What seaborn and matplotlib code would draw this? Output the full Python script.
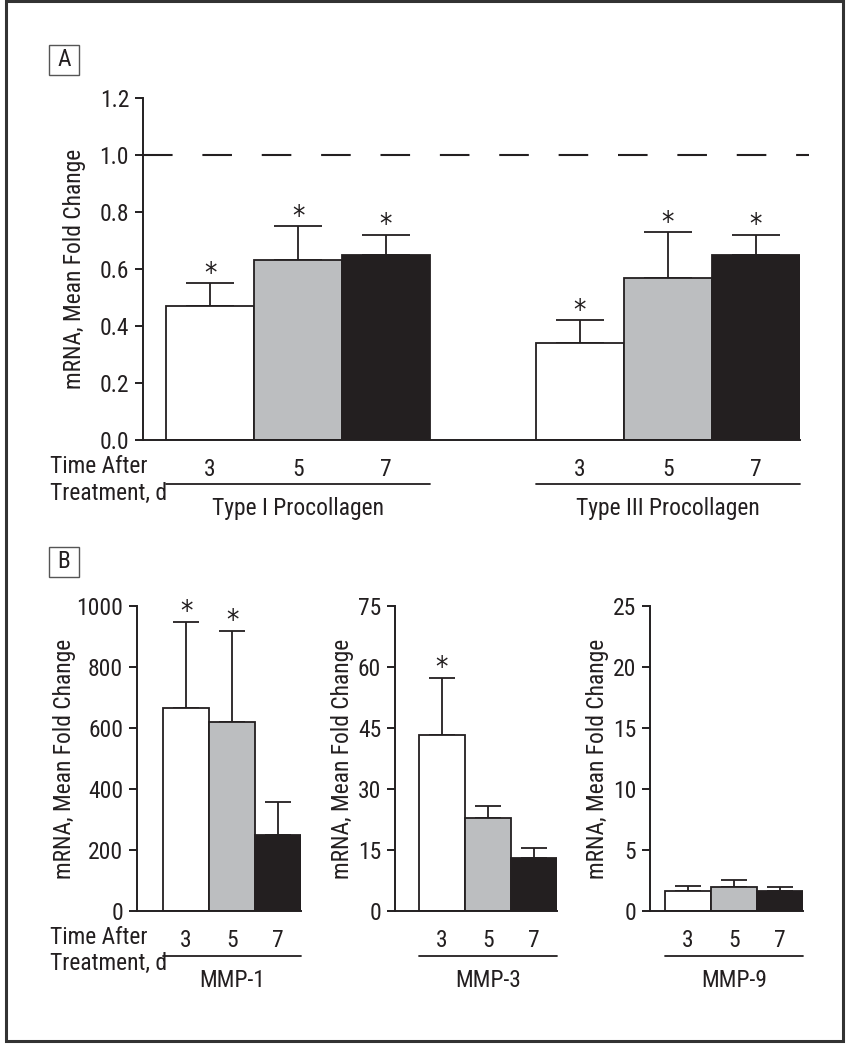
import matplotlib
matplotlib.use("Agg")
import matplotlib.pyplot as plt
from matplotlib import font_manager
from matplotlib.patches import Rectangle
import pandas as pd
import seaborn as sns

# Days after treatment (hue levels) and bar colours
days = ["3", "5", "7"]
bar_colors = ["#ffffff", "#bcbec0", "#231f20"]

# Panel A: procollagen mRNA, mean fold change (+ upper error)
procollagen_groups = ["Type I Procollagen", "Type III Procollagen"]
procollagen_means = [[0.47, 0.63, 0.65], [0.34, 0.57, 0.65]]
procollagen_errs = [[0.08, 0.12, 0.07], [0.08, 0.16, 0.07]]
procollagen_stars = [[True, True, True], [True, True, True]]

# Panel B: MMP mRNA, mean fold change (+ upper error)
mmp1_means = [665, 619, 248]
mmp1_errs = [283, 300, 109]
mmp1_stars = [True, True, False]
mmp3_means = [43.4, 22.9, 13.1]
mmp3_errs = [14.0, 3.0, 2.4]
mmp3_stars = [True, False, False]
mmp9_means = [1.68, 2.0, 1.6]
mmp9_errs = [0.38, 0.55, 0.33]
mmp9_stars = [False, False, False]

DARK = "#231f20"
W, H = 851, 1050

sns.set_style("ticks")
names = {f.name for f in font_manager.fontManager.ttflist}
family = next((n for n in ["Roboto Condensed", "Archivo Narrow",
                           "Liberation Sans Narrow"] if n in names), "DejaVu Sans")
plt.rcParams["font.family"] = [family, "DejaVu Sans"]
plt.rcParams["font.stretch"] = "condensed"
FS = 16.9


def px_axes(left, right, bottom, top):
    """Figure-pixel box -> fig.add_axes rect."""
    return [left / W, 1 - bottom / H, (right - left) / W, (bottom - top) / H]


def draw_panel(ax, groups, means, errs, stars, width, xlim, yticks, fmt,
               capsize, line_y, label_y, ylabel_x):
    df = pd.DataFrame({
        "group": [g for g in groups for _ in days],
        "day": days * len(groups),
        "mean": [m for gm in means for m in gm],
    })
    sns.barplot(data=df, x="group", y="mean", hue="day", order=groups,
                hue_order=days, palette=dict(zip(days, bar_colors)),
                saturation=1, width=width, errorbar=None, edgecolor=DARK,
                linewidth=1.3, legend=False, ax=ax, zorder=2)

    centers = []
    spans = {g: [] for g in range(len(groups))}
    bar_containers = list(ax.containers)
    for d, container in enumerate(bar_containers):
        for g, bar in enumerate(container):
            x = bar.get_x() + bar.get_width() / 2
            top = bar.get_height()
            err = errs[g][d]
            centers.append(x)
            spans[g] += [bar.get_x(), bar.get_x() + bar.get_width()]
            ax.errorbar(x, top, yerr=[[0], [err]], fmt="none", ecolor=DARK,
                        elinewidth=1.3, capsize=capsize, capthick=1.3, zorder=1)
            if stars[g][d]:
                ax.annotate("*", xy=(x, top + err), xytext=(0, 1),
                            textcoords="offset points", ha="center",
                            va="baseline", fontsize=20, color=DARK,
                            family="DejaVu Sans")

    centers.sort()
    ax.set_xticks(centers, days * len(groups))
    ax.tick_params(axis="x", length=0, pad=13, labelsize=FS, colors=DARK)
    ax.tick_params(axis="y", length=6, width=1.4, pad=4, labelsize=FS, colors=DARK)
    ax.set_xlim(*xlim)
    ax.set_ylim(yticks[0], yticks[-1])
    ax.set_yticks(yticks, [fmt.format(t) for t in yticks])
    ax.set_xlabel("")
    ax.set_ylabel("mRNA, Mean Fold Change", fontsize=FS, color=DARK)
    ax.yaxis.set_label_coords(ylabel_x, 0.5)
    sns.despine(ax=ax)
    for s in ["left", "bottom"]:
        ax.spines[s].set_linewidth(1.4)
        ax.spines[s].set_color(DARK)
    ax.patch.set_alpha(0)

    trans = ax.get_xaxis_transform()
    for g, name in enumerate(groups):
        x0, x1 = min(spans[g]), max(spans[g])
        ax.plot([x0, x1], [line_y, line_y], color=DARK, lw=1.3,
                transform=trans, clip_on=False)
        ax.text((x0 + x1) / 2, label_y, name, transform=trans, ha="center",
                va="center", fontsize=FS, color=DARK)


fig = plt.figure(figsize=(W / 100, H / 100), dpi=100)

# Panel A
axA = fig.add_axes(px_axes(143, 800, 440, 98))
draw_panel(axA, procollagen_groups, procollagen_means, procollagen_errs,
           procollagen_stars, 0.7135, (-0.419, 1.357),
           [0.0, 0.2, 0.4, 0.6, 0.8, 1.0, 1.2], "{:.1f}", 17.5,
           -0.1285, -0.199, -0.086)
axA.axhline(1.0, xmin=0, xmax=1.0137, color=DARK, lw=1.5,
            linestyle=(0, (14.2, 14.3)), clip_on=False, zorder=0)

# Panel B
panels_b = [
    ("MMP-1", mmp1_means, mmp1_errs, mmp1_stars, (137, 301), -0.551,
     [0, 200, 400, 600, 800, 1000], -0.375),
    ("MMP-3", mmp3_means, mmp3_errs, mmp3_stars, (395, 557), -0.539,
     [0, 15, 30, 45, 60, 75], -0.256),
    ("MMP-9", mmp9_means, mmp9_errs, mmp9_stars, (650, 803), -0.487,
     [0, 5, 10, 15, 20, 25], -0.271),
]
for name, means, errs, stars, (l, r), xl, yt, ylx in panels_b:
    ax = fig.add_axes(px_axes(l, r, 911, 606))
    draw_panel(ax, [name], [means], [errs], [stars], 0.8, (xl, 0.4), yt,
               "{:d}", 9.4, -0.1475, -0.2295, ylx)

# "Time After / Treatment, d" row labels
for y0 in (467, 937):
    fig.text(50 / W, 1 - y0 / H, "Time After", ha="left", va="center",
             fontsize=FS, color=DARK)
    fig.text(50 / W, 1 - (y0 + 26.5) / H, "Treatment, d", ha="left",
             va="center", fontsize=FS, color=DARK)

# Panel letters in small boxes
for letter, top in (("A", 45), ("B", 547)):
    fig.add_artist(Rectangle((49 / W, 1 - (top + 30) / H), 30 / W, 30 / H,
                             transform=fig.transFigure, fill=False,
                             ec="#555555", lw=1.0))
    fig.text(64 / W, 1 - (top + 15) / H, letter, ha="center", va="center",
             fontsize=FS, color=DARK)

# Outer frame
fig.add_artist(Rectangle((6 / W, 9 / H), 837 / W, 1040 / H,
                         transform=fig.transFigure, fill=False,
                         ec="#333333", lw=2.2))

fig.savefig("out.png", dpi=100)
